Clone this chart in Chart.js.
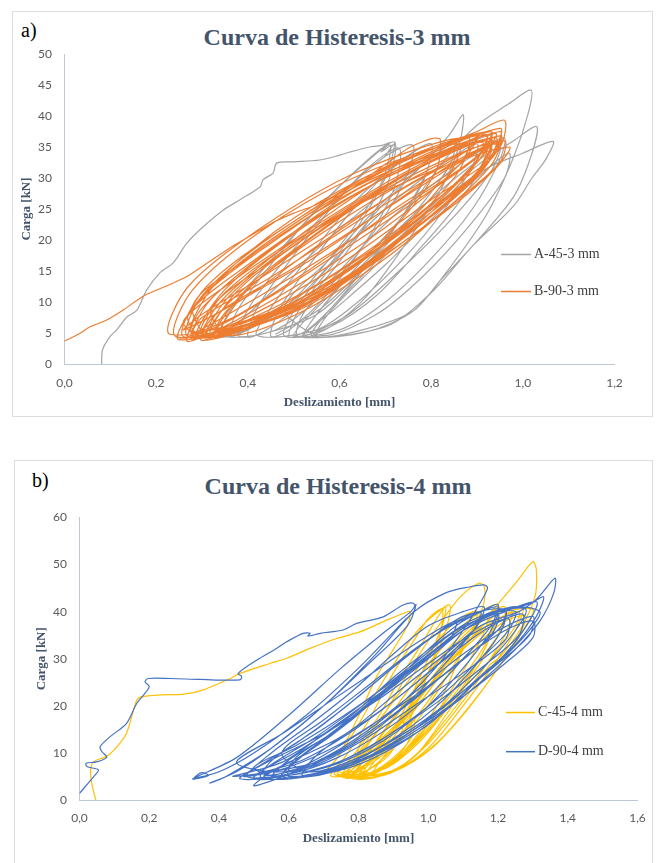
<!DOCTYPE html>
<html>
<head>
<meta charset="utf-8">
<script src="https://cdn.jsdelivr.net/npm/chart.js@4"></script>
<style>
  body { margin: 0; background: #fff; width: 665px; height: 863px; position: relative; overflow: hidden; font-family: "Liberation Serif", serif; }
  .frame { position: absolute; border: 1px solid #DCDCDC; box-sizing: border-box; }
  canvas { position: absolute; }
  .tag { position: absolute; font-size: 20px; line-height: 20px; color: #000; }
  .title { position: absolute; font-size: 24px; line-height: 24px; font-weight: bold; color: #44546A; white-space: nowrap; transform: translateX(-50%); }
</style>
</head>
<body>
<div class="frame" style="left:12px;top:11px;width:641px;height:406px"></div>
<div class="frame" style="left:14px;top:460px;width:639px;height:410px"></div>
<div class="tag" style="left:21px;top:20px">a)</div>
<div class="tag" style="left:32px;top:470px">b)</div>
<div class="title" style="left:337px;top:25px">Curva de Histeresis-3 mm</div>
<div class="title" style="left:338px;top:474px">Curva de Histeresis-4 mm</div>
<canvas id="chartA" width="639" height="404" style="left:13px;top:12px"></canvas>
<canvas id="chartB" width="637" height="402" style="left:15px;top:461px"></canvas>
<script>
// ---- data: [deslizamiento mm, carga kN] ----
const seriesA = [
  [0.081,0],[0.083,2.3],[0.1,4.5],[0.114,5.5],[0.135,7.5],[0.158,8.7],[0.179,11.9],[0.208,14.7],[0.237,16.3],
  [0.267,19.5],[0.302,22.1],[0.346,24.8],[0.383,26.5],[0.427,28.6],[0.433,29.7],[0.455,30.8],[0.463,32.4],
  [0.499,32.6],[0.557,32.9],[0.601,33.7],[0.623,34.2],[0.666,35],[0.695,35.3],[0.71,35.7],[0.69,34.2],[0.715,35.3],[0.7,33.6],[0.72,35.5],
  [0.7,30],[0.62,20],[0.5,10],[0.4,5.5],[0.36,4.6],[0.38,9],[0.45,16],[0.55,25],[0.65,32],[0.71,35.3],
  [0.69,29],[0.6,19],[0.48,9],[0.38,5],[0.34,4.5],[0.36,8.5],[0.43,15],[0.54,24],[0.64,31.5],[0.72,35.8],
  [0.7,28],[0.63,19.5],[0.53,10.5],[0.44,5.5],[0.4,4.4],[0.42,9],[0.49,16.5],[0.58,25],[0.66,31.5],[0.73,34.8],
  [0.72,28.5],[0.66,20],[0.57,11],[0.49,5.5],[0.45,4.5],[0.47,9],[0.54,16.5],[0.63,25],[0.72,32],[0.8,35.5],
  [0.78,29],[0.7,20],[0.6,10.5],[0.53,5.5],[0.49,4.4],[0.51,8.5],[0.58,15.5],[0.68,24.5],[0.78,32],[0.84,37],[0.87,40.2],
  [0.86,35],[0.82,28],[0.75,20],[0.66,11],[0.58,6],[0.52,4.3],[0.55,8],[0.63,15],[0.74,24],[0.83,33],[0.9,38.5],[0.97,42],[1.018,44.2],
  [1.012,40.5],[0.98,33.4],[0.92,24],[0.83,14.5],[0.76,8.5],[0.66,5.2],[0.54,4.5],
  [0.57,8],[0.66,15],[0.78,24],[0.9,32],[0.98,36],[1.03,38.3],[1.02,34],[0.98,27],[0.89,19],[0.82,13.5],[0.76,8.5],[0.65,5.5],[0.55,4.5],
  [0.58,8.5],[0.68,16],[0.8,25],[0.92,31.5],[1.0,34],[1.066,35.9],[1.05,33],[1.02,30],[0.98,25.5],[0.89,19],[0.8,11.5],[0.7,6],[0.51,4.4],
  [0.52,8],[0.6,15],[0.72,24],[0.84,31],[0.92,35],[0.96,36.5],[0.95,33],[0.89,25],[0.8,17],[0.7,10],[0.6,5.5],[0.48,4.5],
  [0.5,8.5],[0.58,16],[0.7,25],[0.82,32],[0.9,35.5],[0.89,32],[0.83,25],[0.74,17],[0.64,10],[0.55,5.5],[0.42,4.6],
  [0.45,9],[0.53,17],[0.63,26],[0.74,33],[0.8,35.5],[0.79,31],[0.73,23],[0.65,15],[0.55,8],[0.44,5],[0.38,4.6],
  [0.41,10],[0.5,18.5],[0.6,27],[0.7,33.5],[0.76,35.3],[0.75,31],[0.7,24],[0.62,16],[0.53,9],[0.45,5.2],[0.35,4.5],
  [0.4,8],[0.5,15],[0.62,23],[0.76,31],[0.88,35.5],[0.93,36.8],[0.92,33],[0.86,26],[0.78,19],[0.68,11],[0.58,6],[0.5,4.5],
  [0.55,9],[0.65,16],[0.76,24],[0.87,31],[0.95,35],[0.93,31],[0.84,23],[0.73,15],[0.62,8],[0.52,4.5],
  [0.6,9.5],[0.7,16],[0.81,24],[0.9,30],[0.97,34],[0.96,30],[0.88,22],[0.78,14],[0.68,8],[0.56,4.6],
  [0.48,9],[0.58,17],[0.68,25],[0.78,32],[0.85,35.5],[0.84,32],[0.76,24],[0.66,16],[0.56,9],[0.46,4.8]
];
const seriesB = [
  [0,3.7],[0.03,4.8],[0.056,6],[0.092,7.1],[0.13,8.8],[0.171,10.9],[0.22,12.5],[0.267,14.1],[0.31,16.2],[0.354,18.4],
  [0.39,20],[0.427,21.6],[0.46,23],[0.499,24.3],[0.54,25.4],[0.572,26.5],[0.61,27.5],[0.65,29.5],[0.7,32.2],[0.75,34.8],
  [0.79,36.1],[0.804,36.4],[0.82,36.2],
  [0.81,31],[0.72,22],[0.6,14],[0.47,8.5],[0.35,5.3],[0.24,4.6],[0.28,12],[0.43,21.5],[0.63,30],[0.86,35.5],
  [0.83,29.5],[0.69,19],[0.47,9],[0.23,4.8],[0.27,12.5],[0.43,22],[0.64,31],[0.88,36.5],
  [0.85,30],[0.7,19.5],[0.48,9.2],[0.25,4.2],[0.31,11.5],[0.48,21],[0.68,30.5],[0.9,37],
  [0.86,32],[0.7,22],[0.47,11],[0.27,3.6],[0.3,9],[0.45,18.5],[0.66,29],[0.92,36],
  [0.9,31],[0.74,20.5],[0.5,8.5],[0.26,4.4],[0.31,12.5],[0.5,23],[0.72,32.5],[0.93,37.5],
  [0.9,32.5],[0.76,23.5],[0.52,11.5],[0.28,4],[0.32,10.5],[0.49,20.5],[0.7,30],[0.94,36.5],
  [0.91,31],[0.76,21.5],[0.52,9.5],[0.3,3.8],[0.34,10],[0.5,20],[0.72,31],[0.95,38],
  [0.93,33.5],[0.8,24],[0.56,11],[0.27,4.5],[0.3,11],[0.46,21],[0.7,31.5],[0.9,37.5],[0.96,39.3],
  [0.95,35],[0.82,25],[0.58,12.5],[0.29,4.1],[0.35,12],[0.53,22.5],[0.74,31.5],[0.94,37.2],
  [0.9,32.5],[0.75,22],[0.5,10],[0.31,4.3],[0.36,11],[0.52,20.5],[0.73,30],[0.95,36.8],
  [0.93,32],[0.79,22.5],[0.55,10.5],[0.32,4.6],[0.38,12],[0.56,22],[0.76,30.5],[0.93,35.5],
  [0.9,31],[0.75,21],[0.53,10],[0.3,4.9],[0.35,11.5],[0.55,22],[0.78,30.5],[0.97,35],
  [0.94,31.5],[0.82,24],[0.6,13],[0.33,4.4],[0.39,11.5],[0.57,21.5],[0.76,30],[0.94,36],
  [0.92,32],[0.8,24],[0.58,12],[0.28,5.2],[0.33,13],[0.5,23.5],[0.71,32],[0.92,37],
  [0.89,32],[0.73,21.5],[0.5,10.5],[0.34,4.8],[0.4,12],[0.58,22.5],[0.78,32],[0.95,37.5],
  [0.93,33],[0.8,24.5],[0.59,13],[0.31,4],[0.36,10],[0.53,20],[0.74,30.5],[0.93,36.3],
  [0.9,31],[0.75,21],[0.52,9],[0.25,3.9],[0.29,10],[0.44,19.5],[0.66,29.5],[0.91,35.8],
  [0.88,30.5],[0.72,19.5],[0.48,8],[0.3,4.5],
  [0.27,8],[0.4,16],[0.6,26],[0.8,33.5],[0.92,36.8],[0.9,33.5],[0.75,26],[0.55,16.5],[0.38,9],[0.28,5],
  [0.3,7.5],[0.45,14],[0.65,23.5],[0.82,31],[0.95,36],[0.93,33],[0.8,26.5],[0.62,17],[0.45,9.5],[0.3,4.5],
  [0.33,8],[0.5,15.5],[0.68,24],[0.85,32],[0.94,35.5],[0.92,32],[0.82,26],[0.66,17.5],[0.48,9],[0.32,4.2],
  [0.28,9.5],[0.38,16],[0.55,24.5],[0.75,32.5],[0.9,37],[0.88,34.5],[0.73,28],[0.55,19],[0.4,11],[0.26,5.5],
  [0.3,8],[0.42,13.5],[0.6,22],[0.78,30],[0.93,35],[0.91,31.5],[0.78,24],[0.62,15],[0.46,8],[0.33,5],
  [0.36,9],[0.52,16],[0.7,25],[0.86,33],[0.96,36],[0.95,32.5],[0.85,26],[0.7,17],[0.52,8.5],[0.36,4.6],
  [0.32,9],[0.46,17],[0.64,26],[0.82,33.5],[0.93,37.5],[0.91,34],[0.79,27.5],[0.6,18],[0.43,10],[0.29,4.8],
  [0.26,7],[0.36,13],[0.52,21],[0.72,30],[0.88,35.5],[0.86,32],[0.72,25],[0.54,15.5],[0.38,8],[0.27,4.4]
];
const seriesC = [
  [0.047,0],[0.035,3.5],[0.032,6.4],[0.04,8.1],[0.078,9.3],[0.107,11.3],[0.135,14.2],[0.164,21.2],[0.178,21.9],
  [0.231,22.3],[0.3,22.5],[0.355,23.4],[0.432,25.8],[0.46,26.9],[0.546,29],[0.594,30.1],[0.661,32.2],[0.737,34.3],
  [0.804,35.7],[0.881,38.2],[0.928,39.6],[0.948,40],
  [0.94,37],[0.9,32],[0.852,26.2],[0.795,17],[0.74,9],[0.718,7.1],[0.7,5.7],
  [0.74,9],[0.8,16],[0.86,24],[0.92,31],[0.97,36],[1.02,39.5],[1.062,41.4],
  [1.05,36],[1.0,27],[0.93,18],[0.86,10],[0.78,5.5],[0.72,5.2],[0.76,9],[0.83,17],[0.9,27],[0.96,34],[1.0,38.5],[1.04,40.5],
  [1.03,34],[0.99,25],[0.94,16],[0.88,9],[0.8,5.5],[0.75,5],[0.8,10],[0.88,19],[0.95,28],[1.02,36],[1.09,43],[1.143,46],[1.16,45.5],
  [1.16,42],[1.14,38],[1.1,32],[1.04,22],[0.96,13],[0.88,7],[0.8,5],[0.76,4.8],[0.8,9],[0.88,17],[0.97,26],[1.06,34],[1.12,38],[1.17,39],
  [1.15,34],[1.08,25],[1.0,16],[0.92,9],[0.84,5.5],[0.78,4.6],[0.82,9],[0.9,17],[0.99,26],[1.08,34],[1.16,39],[1.22,41],
  [1.2,35],[1.13,27],[1.05,18],[0.97,10],[0.89,6],[0.81,4.8],[0.84,9],[0.92,17],[1.01,26],[1.1,34],[1.18,40],[1.25,46],[1.3,50.6],
  [1.31,48.8],[1.306,43.2],[1.263,36.1],[1.206,30.4],[1.177,28.7],[1.1,21],[1.0,12],[0.9,6],[0.8,4.7],
  [0.83,8.5],[0.91,16],[1.0,24],[1.1,32],[1.18,37],[1.24,40],[1.22,35],[1.15,27],[1.06,18],[0.97,10],[0.88,5.5],[0.79,4.6],
  [0.82,9],[0.9,17.5],[1.0,27],[1.09,34],[1.17,39],[1.27,41],[1.25,36],[1.19,29],[1.1,20],[1.0,11],[0.9,6],[0.82,5],
  [0.86,9.5],[0.95,18],[1.04,27],[1.13,35],[1.2,39.5],[1.3,40.5],[1.28,37],[1.22,30],[1.13,21],[1.03,12.5],[0.93,7],[0.84,5.2],
  [0.87,9],[0.96,17],[1.05,26],[1.14,33],[1.22,38],[1.28,39],[1.26,35],[1.2,28],[1.11,19],[1.01,11],[0.91,6.5],[0.77,5],
  [0.8,9.5],[0.89,18],[0.98,27],[1.07,35],[1.15,40],[1.2,41.5],[1.19,37],[1.14,29],[1.06,20],[0.97,12],[0.87,6.5],[0.74,5.5],
  [0.78,9],[0.86,17],[0.95,26],[1.04,35],[1.1,39],[1.14,40],[1.12,35],[1.06,27],[0.98,18],[0.9,11],[0.82,6],[0.75,5],
  [0.78,7],[0.85,11],[0.92,16],[0.99,22],[1.06,29],[1.15,36],[1.22,39],[1.2,35],[1.12,27],[1.04,19],[0.96,12],[0.88,7],[0.8,5],
  [0.74,6.5],[0.82,10],[0.9,15],[0.97,21],[1.04,28],[1.12,35],[1.18,38],[1.17,34],[1.1,26],[1.02,18],[0.94,11],[0.86,6.5],[0.77,4.8],
  [0.8,8],[0.88,13],[0.95,19],[1.03,27],[1.12,34],[1.2,38.5],[1.26,40],[1.25,37],[1.18,30],[1.08,22],[0.99,14],[0.9,8],[0.82,5.2],
  [0.8,11],[0.86,18],[0.92,26],[0.98,33],[1.02,38],[1.05,41],[1.04,37],[1.0,30],[0.95,22],[0.9,15],[0.84,9],[0.78,5.5],
  [0.76,5],[0.8,7.5],[0.86,10.5],[0.92,14],[0.96,17],[0.95,13],[0.9,9],[0.84,6],[0.77,4.7],
  [0.8,6],[0.86,9],[0.91,12.5],[0.95,16],[0.94,12],[0.89,8],[0.82,5.2],
  [0.73,5.5],[0.79,8.5],[0.85,12],[0.9,15.5],[0.93,18],[0.92,14],[0.86,9.5],[0.8,6.5],[0.74,5]
];
const seriesD = [
  [0,1.4],[0.04,4.9],[0.054,6.4],[0.021,7.1],[0.019,7.8],[0.049,8.1],[0.078,9.1],[0.064,10.3],[0.059,11.3],[0.087,13.4],
  [0.135,16.3],[0.164,20.5],[0.188,22.7],[0.2,24.1],[0.188,25.1],[0.197,25.8],[0.26,25.8],[0.346,25.6],[0.46,25.5],
  [0.465,26.2],[0.455,26.9],[0.508,29.7],[0.565,32.2],[0.594,33.6],[0.641,35.4],[0.661,35.4],[0.655,34.8],[0.69,35.4],
  [0.756,36.1],[0.795,37.5],[0.871,38.9],[0.928,41.4],[0.957,41.8],[0.962,40.4],
  [0.93,38],[0.8,28],[0.65,18],[0.5,10],[0.4,6],[0.33,4.7],[0.35,5.8],[0.37,5.2],[0.325,4.5],
  [0.45,9],[0.6,18],[0.75,28],[0.88,36],[0.95,40],[0.965,41.5],
  [0.94,37],[0.83,29],[0.7,20],[0.55,11],[0.45,6],[0.374,3.6],
  [0.42,5],[0.55,11],[0.7,20],[0.85,31],[0.96,40],[1.05,44],[1.12,45.3],[1.16,45.7],[1.17,45],
  [1.15,42],[1.1,36],[1.02,28],[0.9,19],[0.75,11],[0.6,5.5],[0.5,3],
  [0.54,5.5],[0.65,10],[0.78,17],[0.9,25],[1.0,32],[1.1,38],[1.2,41],[1.18,36],[1.1,28],[1.0,20],[0.88,13],[0.75,8],[0.6,5.2],[0.46,4.5],
  [0.52,7.5],[0.62,12],[0.75,19],[0.88,27],[1.0,34],[1.1,39],[1.22,40.5],[1.21,36],[1.14,29],[1.04,21],[0.92,14],[0.78,8],[0.63,5],[0.5,4.6],
  [0.56,8],[0.68,13.5],[0.82,21],[0.96,29],[1.08,36],[1.2,40],[1.3,42],[1.363,47.1],[1.36,44],[1.32,38],[1.25,32],[1.15,25],[1.03,18],[0.88,11],[0.72,6],[0.55,4.5],
  [0.6,8.5],[0.72,14],[0.86,22],[0.99,30],[1.1,36],[1.22,40],[1.311,42.1],[1.29,38],[1.22,31],[1.12,24],[1.0,16],[0.86,10],[0.7,5.5],[0.58,5],
  [0.63,9],[0.75,15.5],[0.88,23],[1.0,30],[1.1,36],[1.2,40],[1.28,40.5],[1.25,36],[1.17,29],[1.06,21],[0.94,14],[0.8,8],[0.66,5],[0.52,4.8],
  [0.56,9],[0.68,15],[0.8,22],[0.93,30],[1.04,36],[1.15,40],[1.2,41.5],[1.18,37],[1.1,30],[1.0,22],[0.88,15],[0.74,9],[0.6,5.5],[0.48,5],
  [0.55,10],[0.66,16],[0.78,23],[0.9,31],[1.0,37],[1.1,40],[1.16,41],[1.14,37],[1.06,30],[0.96,22],[0.84,14.5],[0.7,8.5],[0.58,5.2],
  [0.65,10],[0.77,17],[0.9,25],[1.02,32],[1.12,37.5],[1.24,41],[1.32,40],[1.3,37],[1.24,32],[1.15,26],[1.05,19],[0.92,12],[0.78,7],[0.64,5.2],
  [0.68,9.5],[0.8,16],[0.93,24],[1.05,31],[1.15,37],[1.26,40],[1.33,43.2],[1.31,39],[1.25,33],[1.16,27],[1.05,20],[0.92,13],[0.78,7.5],[0.6,5],
  [0.62,9],[0.74,15],[0.87,23],[0.99,30],[1.08,35.5],[1.18,39.5],[1.25,40],[1.23,36],[1.15,30],[1.05,23],[0.93,16],[0.8,10],[0.66,6],[0.55,5.2],
  [0.5,7],[0.62,11.5],[0.78,19],[0.95,28],[1.1,36],[1.2,39.5],[1.18,35],[1.05,27],[0.9,19],[0.75,12],[0.6,7],[0.47,5],
  [0.55,8.5],[0.7,14],[0.85,21],[1.0,29],[1.12,35],[1.23,38.5],[1.22,34],[1.1,27],[0.96,20],[0.82,13],[0.68,7.5],[0.53,5.2],
  [0.6,8],[0.74,13],[0.9,21],[1.05,30],[1.17,36.5],[1.27,39.5],[1.26,35],[1.16,28.5],[1.03,21],[0.88,13.5],[0.74,8],[0.6,5.3],
  [0.7,9.5],[0.84,16],[0.98,24],[1.1,31],[1.2,36],[1.3,39],[1.29,35],[1.2,29],[1.08,22],[0.95,15],[0.8,9],[0.66,6],
  [0.58,10],[0.7,17],[0.84,25],[0.96,32],[1.06,37],[1.15,40],[1.13,36],[1.03,29],[0.9,21],[0.77,14],[0.64,8.5],[0.52,6],
  [0.64,11],[0.78,18],[0.9,26],[1.02,33],[1.12,38],[1.22,40.5],[1.21,37],[1.12,31],[1.0,24],[0.86,16],[0.72,9.5],[0.58,6],
  [0.45,8],[0.58,14],[0.72,21],[0.86,28],[0.98,34],[1.08,38],[1.06,34],[0.96,28],[0.83,21],[0.7,14],[0.58,8],[0.44,5],
  [0.68,8],[0.82,13.5],[0.97,22],[1.1,30],[1.22,36],[1.3,38],[1.3,34.5],[1.22,29],[1.1,22],[0.96,15],[0.82,9],[0.7,6]
];

const labelsA = ["A-45-3 mm", "B-90-3 mm"];
const labelsB = ["C-45-4 mm", "D-90-4 mm"];
const xLabel = "Deslizamiento [mm]";
const yLabel = "Carga [kN]";

const toXY = arr => arr.map(p => ({ x: p[0], y: p[1] }));
const comma = v => v.toFixed(1).replace(".", ",");

// legend drawn inside the plot, like the Excel original
const sideLegend = {
  id: "sideLegend",
  afterDraw(chart, args, opts) {
    const ctx = chart.ctx;
    ctx.save();
    ctx.font = '14px "Liberation Serif"';
    ctx.textBaseline = "middle";
    chart.data.datasets.forEach((ds, i) => {
      const y = opts.y[i];
      ctx.strokeStyle = ds.borderColor;
      ctx.lineWidth = 1.5;
      ctx.beginPath();
      ctx.moveTo(opts.x, y);
      ctx.lineTo(opts.x + opts.len, y);
      ctx.stroke();
      ctx.fillStyle = "#404040";
      ctx.fillText(ds.label, opts.x + opts.len + 3, y);
    });
    ctx.restore();
  }
};

function buildChart(id, o) {
  const tickFont = { family: "Lato, 'Open Sans', sans-serif", size: 12 };
  const titleFont = { family: "'Liberation Serif', serif", size: 13, weight: "bold" };
  return new Chart(document.getElementById(id), {
    type: "scatter",
    data: {
      datasets: o.series.map((s, i) => ({
        label: o.labels[i],
        data: toXY(s),
        showLine: true,
        borderColor: o.colors[i],
        borderWidth: 1.2,
        pointRadius: 0,
        tension: 0.3,
        order: o.order[i]
      }))
    },
    options: {
      responsive: false,
      animation: false,
      layout: { autoPadding: false, padding: o.padding },
      plugins: {
        legend: { display: false },
        tooltip: { enabled: false },
        sideLegend: o.legend
      },
      scales: {
        x: {
          type: "linear", min: 0, max: o.xMax,
          ticks: { stepSize: 0.2, color: "#595959", font: tickFont, padding: o.xPad, callback: comma },
          grid: { display: false },
          border: { color: "#BFC7D5", width: 1 },
          title: { display: true, text: xLabel, color: "#44546A", font: titleFont, padding: 0 },
          afterFit: s => { s.height = o.xH; }
        },
        y: {
          min: 0, max: o.yMax,
          ticks: { stepSize: o.yStep, color: "#595959", font: tickFont, padding: 4.5 },
          grid: { display: false },
          border: { color: "#BFC7D5", width: 1 },
          title: { display: true, text: yLabel, color: "#44546A", font: titleFont, padding: 0 },
          afterFit: s => { s.width = o.yW; }
        }
      }
    },
    plugins: [sideLegend]
  });
}

buildChart("chartA", {
  series: [seriesA, seriesB], labels: labelsA,
  colors: ["#A5A5A5", "#ED7D31"], order: [2, 1],
  xMax: 1.2, yMax: 50, yStep: 5,
  padding: { left: 6.2, right: 37.5, top: 42, bottom: 5.2 },
  xH: 46.8, yW: 45.3, xPad: 3.5,
  legend: { x: 488, len: 30, y: [242.5, 279.5] }
});

buildChart("chartB", {
  series: [seriesC, seriesD], labels: labelsB,
  colors: ["#FFC000", "#4472C4"], order: [2, 1],
  xMax: 1.6, yMax: 60, yStep: 10,
  padding: { left: 19.2, right: 14.5, top: 56.5, bottom: 16.5 },
  xH: 46.5, yW: 45.3, xPad: 2.8,
  legend: { x: 491, len: 29, y: [251.5, 290.7] }
});
</script>
</body>
</html>
